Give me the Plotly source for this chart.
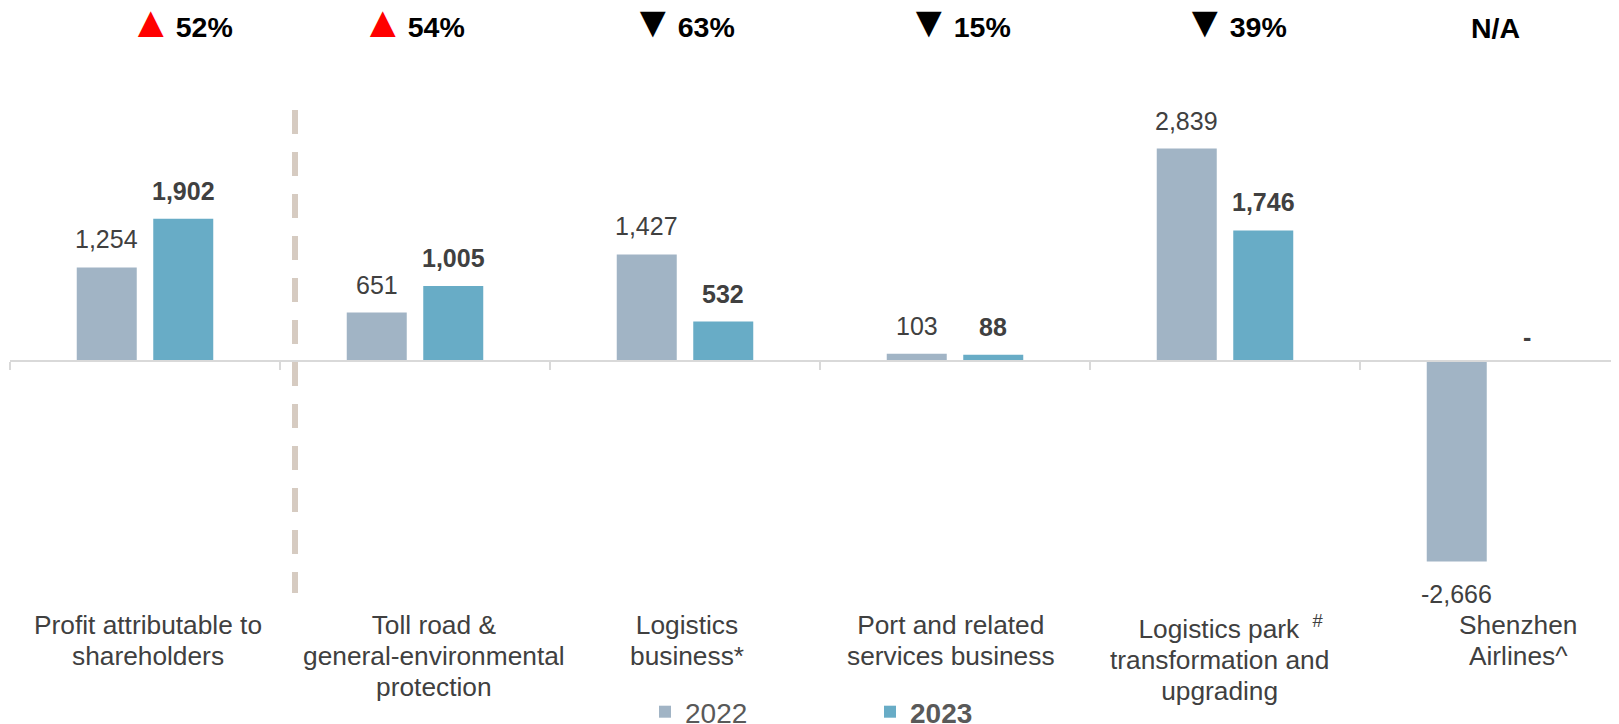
import plotly.graph_objects as go

# ---------------- data ----------------
categories = [
    "Profit attributable to<br>shareholders",
    "Toll road &<br>general-environmental<br>protection",
    "Logistics<br>business*",
    "Port and related<br>services business",
    "\u00a0\u00a0\u00a0Logistics park\u2002<sup>#</sup><br>transformation and<br>upgrading",
    "Shenzhen<br>Airlines^",
]
values_2022 = [1254, 651, 1427, 103, 2839, -2666]
values_2023 = [1902, 1005, 532, 88, 1746, None]
change_dir = ["up", "up", "down", "down", "down", None]
change_text = ["52%", "54%", "63%", "15%", "39%", "N/A"]
series_names = ["2022", "2023"]

# ---------------- styling / layout constants ----------------
FONT = "Arial, 'Liberation Sans', sans-serif"
C2022 = "#A1B4C5"
C2023 = "#68ACC6"
TXT = "#404040"
W, H = 1619, 724
BODY = 8                      # default html body margin
ML, MR, MT, MB = 2, 8, 52, 132
PX_PER_CAT = 270.0
PLOT_W = W - ML - MR
PLOT_H = H - MT - MB
PAGE_TOP = MT + BODY          # page y of plot top
PAGE_BOT = PAGE_TOP + PLOT_H  # page y of plot bottom
X_RANGE = [-0.5, -0.5 + PLOT_W / PX_PER_CAT]
Y_RANGE = [-3181, 4019]
BAR_W = 60 / PX_PER_CAT
GAP = 16.5 / PX_PER_CAT
OFF_2022 = -(BAR_W + GAP / 2)
OFF_2023 = GAP / 2

pct_xshift = [36, -2, -2, 4, 10, 0]
cat_xshift = [3, 19, 2, -4, -6, 23]


def fmt(v):
    return "-" if v is None else f"{v:,}"


def page_y(yp):
    return (PAGE_BOT - yp) / PLOT_H


fig = go.Figure()
fig.add_trace(go.Bar(
    x=categories, y=values_2022, name=series_names[0],
    marker=dict(color=C2022, line=dict(width=0)),
    width=BAR_W, offset=OFF_2022,
))
fig.add_trace(go.Bar(
    x=categories, y=[0 if v is None else v for v in values_2023],
    name="<b>" + series_names[1] + "</b>",
    marker=dict(color=C2023, line=dict(width=0)),
    width=BAR_W, offset=OFF_2023,
))

annotations = []
# value labels
for vals, off, bold in ((values_2022, OFF_2022, False), (values_2023, OFF_2023, True)):
    for cat, v in zip(categories, vals):
        y = 0 if v is None else v
        txt = fmt(v)
        if bold:
            txt = "<b>" + txt + "</b>"
        neg = y < 0
        if v is None:
            ys = 8
        elif neg:
            ys = -17
        else:
            ys = 12
        annotations.append(dict(
            x=cat, y=y, xref="x", yref="y",
            text=txt, showarrow=False,
            xshift=(off + BAR_W / 2) * PX_PER_CAT - (6 if v is None else 0),
            yanchor="top" if neg else "bottom",
            yshift=ys,
            font=dict(family=FONT, size=25, color=TXT),
        ))

# category labels
for cat, xs in zip(categories, cat_xshift):
    lines = cat.split("<br>")
    txt = "<br>".join('<span style="font-size:26.3px">' + ln + "</span>" for ln in lines)
    annotations.append(dict(
        x=cat, y=0, xref="x", yref="paper",
        text=txt, showarrow=False, align="center",
        xanchor="center", yanchor="top", xshift=xs, yshift=-8,
        font=dict(family=FONT, size=24, color=TXT),
    ))

# change indicators
SP = '<span style="font-size:16px">\u2009</span>'
for cat, d, t, xs in zip(categories, change_dir, change_text, pct_xshift):
    if d == "up":
        txt = '<span style="color:#FF0000;font-size:44px">\u25B2</span>' + SP + "<b>" + t + "</b>"
    elif d == "down":
        txt = '<span style="color:#000000;font-size:44px">\u25BC</span>' + SP + "<b>" + t + "</b>"
    else:
        txt = "<b>" + t + "</b>"
    annotations.append(dict(
        x=cat, y=page_y(22 if d else 28), xref="x", yref="paper",
        text=txt, showarrow=False, xanchor="center", yanchor="middle",
        xshift=xs, font=dict(family=FONT, size=28.5, color="#000000"),
    ))

fig.update_layout(
    width=W, height=H,
    margin=dict(l=ML, r=MR, t=MT, b=MB, autoexpand=False),
    paper_bgcolor="white", plot_bgcolor="white",
    barmode="overlay",
    showlegend=True,
    legend=dict(
        orientation="h", x=(645 - (ML + BODY)) / PLOT_W, xanchor="left",
        y=page_y(712), yanchor="middle",
        font=dict(family=FONT, size=28, color="#595959"),
        entrywidth=180, entrywidthmode="pixels",
        bgcolor="rgba(0,0,0,0)",
    ),
    xaxis=dict(
        range=X_RANGE, type="category",
        anchor="free", position=-Y_RANGE[0] / (Y_RANGE[1] - Y_RANGE[0]),
        showline=True, linecolor="#D9D9D9", linewidth=2,
        ticks="outside", tickson="boundaries", ticklen=8,
        tickcolor="#D9D9D9", tickwidth=2,
        showticklabels=False, showgrid=False, zeroline=False,
    ),
    yaxis=dict(
        range=Y_RANGE, visible=False, showgrid=False, zeroline=False,
    ),
    annotations=annotations,
    shapes=[dict(
        type="line", xref="x", yref="paper",
        x0=0.5 + 15 / PX_PER_CAT, x1=0.5 + 15 / PX_PER_CAT,
        y0=page_y(110), y1=page_y(593),
        line=dict(color="#D6CBC1", width=6, dash="24px,18px"),
        layer="above",
    )],
    font=dict(family=FONT),
)

fig.write_html("out.html")
